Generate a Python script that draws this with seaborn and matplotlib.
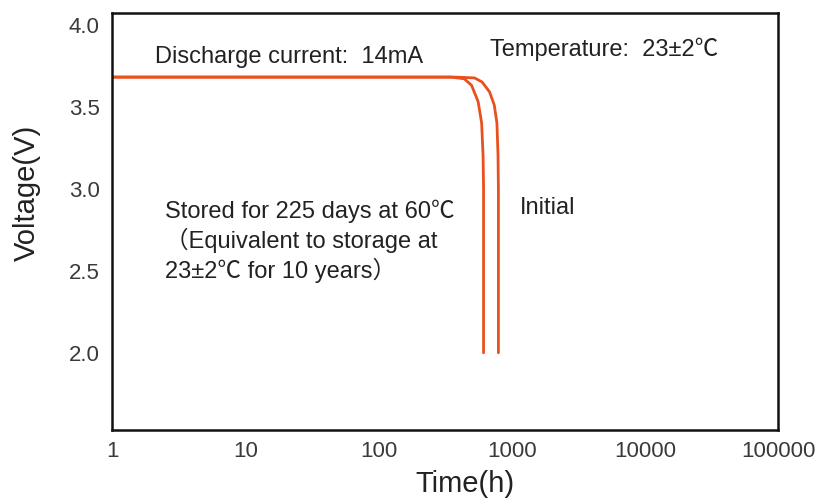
import matplotlib
matplotlib.use("Agg")
import matplotlib.pyplot as plt
import seaborn as sns
import pandas as pd

# discharge curves (time in h, voltage in V)
stored_time = [1, 350, 440, 500, 560, 595, 610, 615, 615]
stored_volt = [3.68, 3.68, 3.67, 3.63, 3.53, 3.40, 3.20, 3.00, 2.00]
initial_time = [1, 380, 526, 600, 682, 740, 775, 790, 795, 795]
initial_volt = [3.68, 3.68, 3.675, 3.65, 3.59, 3.51, 3.40, 3.20, 3.00, 2.00]

x_ticks = [1, 10, 100, 1000, 10000, 100000]
x_ticklabels = ["1", "10", "100", "1000", "10000", "100000"]
y_ticks = [2.0, 2.5, 3.0, 3.5, 4.0]

sns.set_style("white")
plt.rcParams['font.family'] = ['Liberation Sans', 'Noto Sans CJK SC', 'DejaVu Sans']

df = pd.concat([
    pd.DataFrame({"time": stored_time, "volt": stored_volt, "cond": "stored"}),
    pd.DataFrame({"time": initial_time, "volt": initial_volt, "cond": "initial"}),
])

fig = plt.figure(figsize=(8.25, 5.04), dpi=100)
ax = fig.add_axes([0.136, 0.147, 0.807, 0.827])

line_color = "#E8501E"
sns.lineplot(data=df, x="time", y="volt", units="cond", estimator=None,
             sort=False, color=line_color, linewidth=2.0, ax=ax)

ax.set_xscale("log")
ax.set_xlim(1, 100000)
ax.set_ylim(1.53, 4.07)
ax.set_xticks(x_ticks)
ax.set_xticklabels(x_ticklabels)
ax.minorticks_off()
ax.set_yticks(y_ticks)
ax.set_yticklabels([f"{v:.1f}" for v in y_ticks])
ax.tick_params(axis="x", direction="in", length=5, width=1, color="#888888",
               labelsize=16, labelcolor="#3a3a3a", pad=8)
ax.tick_params(axis="y", length=0, labelsize=16, labelcolor="#3a3a3a", pad=9)

for s in ax.spines.values():
    s.set_color("#111111")
    s.set_linewidth(1.8)

ax.set_xlabel("Time(h)", fontsize=21, color="#222222")
ax.xaxis.set_label_coords(0.53, -0.095)
ax.set_ylabel("Voltage(V)", fontsize=21, color="#222222")
ax.yaxis.set_label_coords(-0.107, 0.568)

txt = dict(fontsize=17, color="#222222", transform=ax.transAxes)
ax.text(0.065, 0.88, "Discharge current:  14mA", **txt)
ax.text(0.568, 0.897, "Temperature:  23±2℃", **txt)
ax.text(0.08, 0.508, "Stored for 225 days at 60℃", **txt)
ax.text(0.08, 0.436, "（Equivalent to storage at", **txt)
ax.text(0.08, 0.365, "23±2℃ for 10 years）", **txt)
ax.text(0.613, 0.518, "Initial", **txt)

plt.savefig("out.png", dpi=100)
plt.close()
